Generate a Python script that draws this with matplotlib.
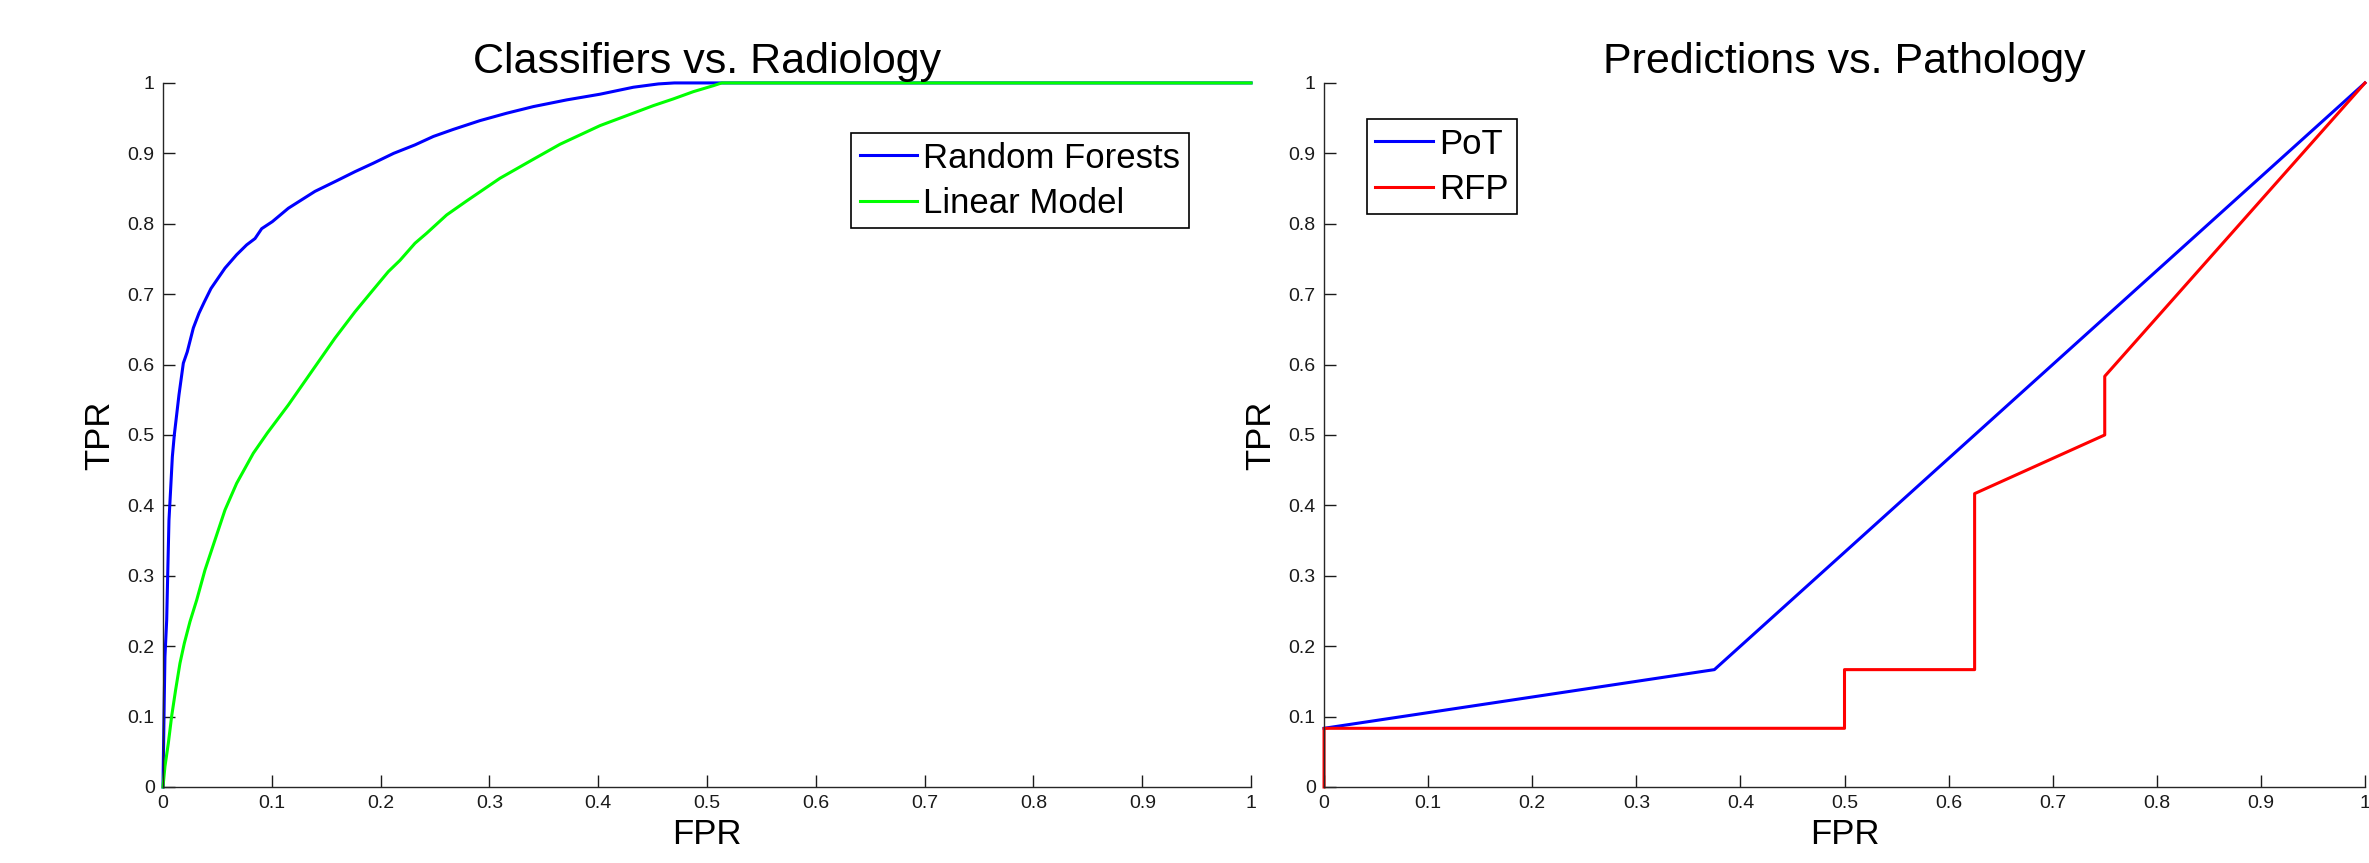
import numpy as np
import matplotlib.pyplot as plt

plt.rcParams['font.family'] = ['Liberation Sans', 'DejaVu Sans']

# Classifiers vs. Radiology (ROC points)
rf_fpr = [0.0, 0.0003, 0.0012, 0.0018, 0.0034, 0.0043, 0.0055, 0.007, 0.0086, 0.0104,
          0.0147, 0.0187, 0.0223, 0.0279, 0.0331, 0.038, 0.0441, 0.057, 0.0677, 0.0769,
          0.0846, 0.0907, 0.1005, 0.1152, 0.1397, 0.1596, 0.1765, 0.1933, 0.212, 0.2316,
          0.2485, 0.2668, 0.2914, 0.3159, 0.3404, 0.371, 0.4017, 0.4323, 0.4553, 0.47, 1.0]
rf_tpr = [0.0, 0.034, 0.128, 0.185, 0.237, 0.299, 0.379, 0.422, 0.469, 0.5,
          0.557, 0.602, 0.618, 0.652, 0.673, 0.689, 0.708, 0.737, 0.756, 0.770,
          0.779, 0.793, 0.803, 0.822, 0.846, 0.861, 0.874, 0.886, 0.900, 0.912,
          0.924, 0.934, 0.9465, 0.957, 0.9664, 0.9759, 0.984, 0.9939, 0.9986, 1.0, 1.0]
lm_fpr = [0.0, 0.0018, 0.0049, 0.008, 0.0116, 0.0156, 0.0196, 0.0248, 0.031, 0.0386,
          0.0478, 0.057, 0.0677, 0.083, 0.096, 0.1152, 0.1366, 0.158, 0.1765, 0.1918,
          0.2071, 0.2178, 0.2316, 0.2423, 0.2607, 0.2791, 0.3097, 0.3404, 0.3649, 0.4017,
          0.4262, 0.4507, 0.469, 0.4874, 0.5058, 0.5135, 1.0]
lm_tpr = [0.0, 0.029, 0.062, 0.1009, 0.1378, 0.1757, 0.2041, 0.2348, 0.2656, 0.3082,
          0.3509, 0.3935, 0.4313, 0.474, 0.503, 0.5426, 0.590, 0.6374, 0.675, 0.7036,
          0.732, 0.748, 0.7723, 0.7865, 0.8125, 0.8324, 0.8646, 0.8916, 0.9129, 0.9394,
          0.9536, 0.9678, 0.9773, 0.9876, 0.9961, 1.0, 1.0]

# Predictions vs. Pathology
pot_fpr = [0.0, 0.375, 1.0]
pot_tpr = [1 / 12, 2 / 12, 1.0]
rfp_fpr = [0.0, 0.0, 0.5, 0.5, 0.625, 0.625, 0.75, 0.75, 1.0]
rfp_tpr = [0.0, 1 / 12, 1 / 12, 2 / 12, 2 / 12, 5 / 12, 6 / 12, 7 / 12, 1.0]

ticks = np.round(np.arange(0, 1.01, 0.1), 1)
tick_labels = [f"{t:g}" for t in ticks]

fig = plt.figure(figsize=(23.69, 8.63), dpi=100)
ax1 = fig.add_axes([0.0688, 0.0881, 0.4593, 0.8158])
ax2 = fig.add_axes([0.5589, 0.0881, 0.4394, 0.8158])


def style(ax, title):
    ax.set_xlim(0, 1)
    ax.set_ylim(0, 1)
    ax.set_xticks(ticks)
    ax.set_xticklabels(tick_labels)
    ax.set_yticks(ticks)
    ax.set_yticklabels(tick_labels)
    ax.tick_params(direction='in', length=8.5, width=1, labelsize=14, pad=6, colors='0.1')
    for s in ['top', 'right']:
        ax.spines[s].set_visible(False)
    for s in ['left', 'bottom']:
        ax.spines[s].set_linewidth(1)
        ax.spines[s].set_color('0.15')
    ax.set_title(title, fontsize=31, pad=7)
    ax.set_xlabel("FPR", fontsize=25, labelpad=4)
    ax.set_ylabel("TPR", fontsize=25, labelpad=8)


def legend(ax, **kw):
    leg = ax.legend(borderaxespad=0, fontsize=25, fancybox=False, edgecolor='black',
                    framealpha=1, handlelength=1.65, handletextpad=0.18,
                    labelspacing=0.35, borderpad=0.25, **kw)
    leg.get_frame().set_linewidth(1.2)
    return leg


ax1.plot(rf_fpr, rf_tpr, color=(0, 0, 1), lw=2.2, label="Random Forests",
         clip_on=False, solid_joinstyle='round')
ax1.plot(lm_fpr, lm_tpr, color=(0, 1, 0), lw=2.2, label="Linear Model",
         clip_on=False, solid_joinstyle='round')
style(ax1, "Classifiers vs. Radiology")
legend(ax1, loc='upper right', bbox_to_anchor=(0.943, 0.929))

ax2.plot(pot_fpr, pot_tpr, color=(0, 0, 1), lw=2.2, label="PoT", clip_on=False)
ax2.plot(rfp_fpr, rfp_tpr, color=(1, 0, 0), lw=2.2, label="RFP", clip_on=False)
style(ax2, "Predictions vs. Pathology")
legend(ax2, loc='upper left', bbox_to_anchor=(0.041, 0.949))

fig.savefig("out.png", dpi=100)
